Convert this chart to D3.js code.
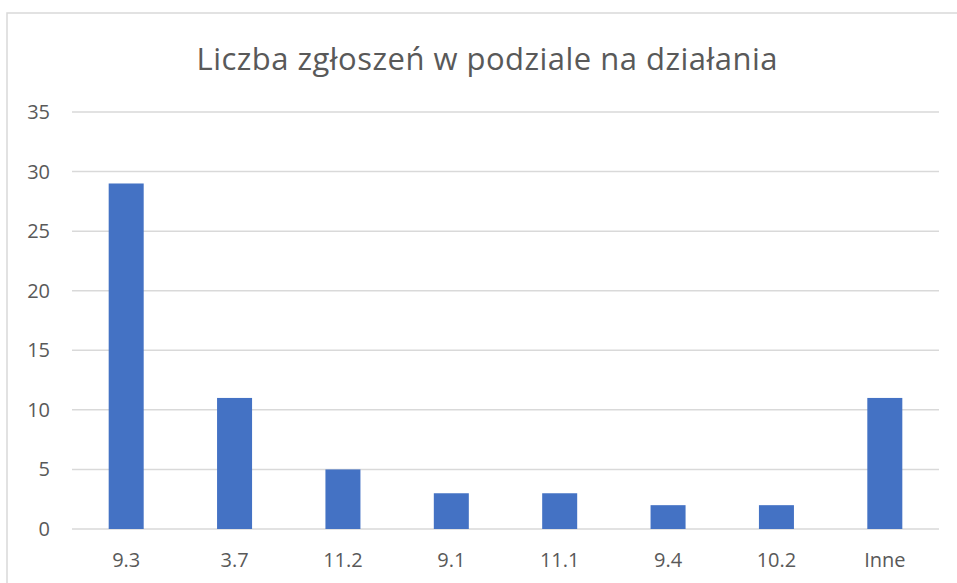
<!DOCTYPE html>
<html>
<head>
<meta charset="utf-8">
<script src="https://cdn.jsdelivr.net/npm/d3@7"></script>
<style>
html,body{margin:0;padding:0;background:#fff;overflow:hidden;}
svg{display:block;}
</style>
</head>
<body>
<svg id="chart" width="957" height="583"></svg>
<script>
const title = "Liczba zgłoszeń w podziale na działania";
const categories = ["9.3","3.7","11.2","9.1","11.1","9.4","10.2","Inne"];
const values = [29, 11, 5, 3, 3, 2, 2, 11];
const yTicks = [0,5,10,15,20,25,30,35];

(function(){
const svg = d3.select("#chart");
const font = "'Open Sans', 'Noto Sans', sans-serif";
const textColor = "#595959";
const gridColor = "#d9d9d9";
const barColor = "#4472c4";

svg.append("rect")
  .attr("x", 7).attr("y", 13)
  .attr("width", 1000).attr("height", 1000)
  .attr("fill", "#fff")
  .attr("stroke", "#d9d9d9").attr("stroke-width", 1.5);

const pL = 72, pR = 939, pT = 112, pB = 529;

const x = d3.scaleBand().domain(categories).range([pL, pR]).paddingInner(0.677).paddingOuter(0.3385);
const y = d3.scaleLinear().domain([0, 35]).range([pB, pT]);

svg.append("g").selectAll("line").data(yTicks).join("line")
  .attr("x1", pL).attr("x2", pR)
  .attr("y1", d => y(d)).attr("y2", d => y(d))
  .attr("stroke", gridColor).attr("stroke-width", 1.5);

svg.append("g").selectAll("text").data(yTicks).join("text")
  .attr("x", 50).attr("y", d => y(d))
  .attr("dy", "0.35em")
  .attr("text-anchor", "end")
  .attr("font-family", font).attr("font-size", 20)
  .attr("fill", textColor)
  .text(d => d);

svg.append("g").selectAll("rect").data(values).join("rect")
  .attr("x", (d, i) => x(categories[i]))
  .attr("width", x.bandwidth())
  .attr("y", d => y(d))
  .attr("height", d => y(0) - y(d))
  .attr("fill", barColor);

svg.append("g").selectAll("text").data(categories).join("text")
  .attr("x", d => x(d) + x.bandwidth() / 2)
  .attr("y", 560)
  .attr("dy", "0.35em")
  .attr("text-anchor", "middle")
  .attr("font-family", font).attr("font-size", 20)
  .attr("fill", textColor)
  .text(d => d);

svg.append("text")
  .attr("x", 487).attr("y", 70)
  .attr("text-anchor", "middle")
  .attr("font-family", font).attr("font-size", 31)
  .attr("textLength", 581)
  .attr("lengthAdjust", "spacing")
  .attr("fill", textColor)
  .text(title);
})();
</script>
</body>
</html>
